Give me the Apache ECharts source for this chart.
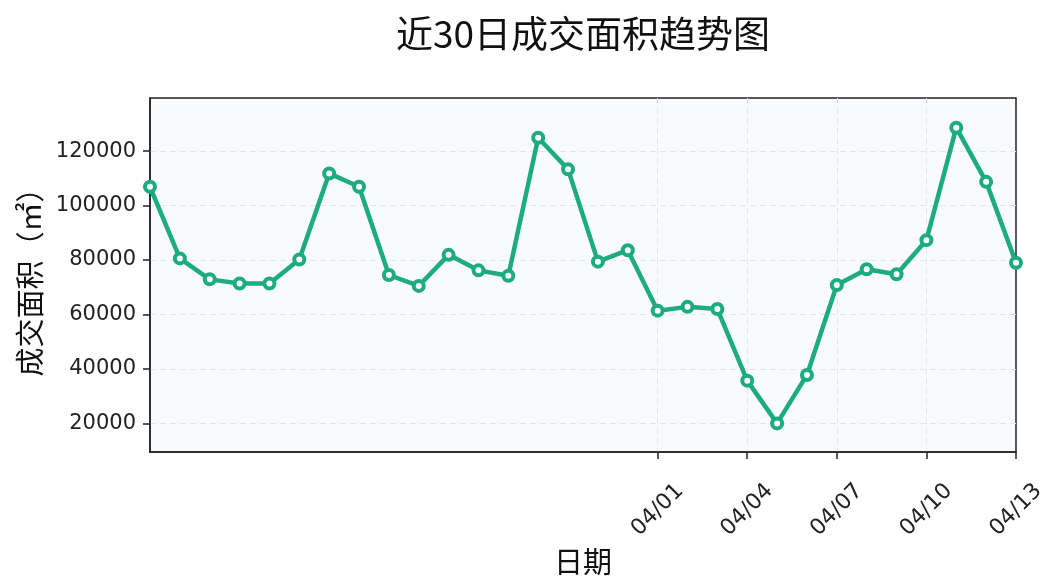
<!DOCTYPE html>
<html><head><meta charset="utf-8">
<script src="https://cdn.jsdelivr.net/npm/echarts@6/dist/echarts.min.js"></script>
<style>html,body{margin:0;padding:0;background:#fff}#c{width:1064px;height:585px}</style>
</head><body><div id="c"></div>
<script>
const dates = ["03/15","03/16","03/17","03/18","03/19","03/20","03/21","03/22","03/23","03/24",
  "03/25","03/26","03/27","03/28","03/29","03/30","03/31","04/01","04/02","04/03",
  "04/04","04/05","04/06","04/07","04/08","04/09","04/10","04/11","04/12","04/13"];
const areaValues = [106900,80600,72900,71400,71400,80200,111800,106900,74500,70500,
  81900,76200,74200,124900,113300,79400,83600,61400,62800,62000,
  35700,20000,37800,70800,76600,74800,87300,128600,108700,79000];
const xTickLabels = ["04/01","04/04","04/07","04/10","04/13"];
const yTickValues = [20000,40000,60000,80000,100000,120000];

const showTick = (i) => xTickLabels.includes(dates[i]);
const showGrid = (i) => xTickLabels.includes(dates[i]) && i !== dates.length - 1;
const chart = echarts.init(document.getElementById('c'));
chart.setOption({
  animation: false,
  backgroundColor: '#fff',
  title: {
    text: '近30日成交面积趋势图', left: 578, top: 10, textAlign: 'center',
    textStyle: {fontSize: 37, fontWeight: 'normal', color: '#111', fontFamily: 'Noto Sans CJK SC'}
  },
  grid: {left: 150, right: 48, top: 98, bottom: 133, show: true,
    backgroundColor: '#f8fafc', borderColor: '#222', borderWidth: 1.5},
  xAxis: {
    type: 'category', data: dates, boundaryGap: false,
    name: '日期', nameLocation: 'middle', nameGap: 83,
    nameTextStyle: {fontSize: 29, color: '#111', fontFamily: 'Noto Sans CJK SC'},
    axisLine: {lineStyle: {color: '#222', width: 1.5}},
    axisTick: {interval: showTick, length: 7, lineStyle: {color: '#222', width: 1.5}},
    axisLabel: {interval: showTick, rotate: 45, align: 'center', verticalAlign: 'middle',
      fontSize: 22, color: '#222', margin: 58, fontFamily: 'DejaVu Sans'},
    splitLine: {show: true, interval: showGrid, lineStyle: {color: '#e3e6ea', type: [6, 4], width: 1}}
  },
  yAxis: {
    type: 'value', min: 9500, max: 139500, splitNumber: 6,
    name: '成交面积（㎡）', nameLocation: 'middle', nameGap: 104,
    nameTextStyle: {fontSize: 29, color: '#111', fontFamily: 'Noto Sans CJK SC'},
    axisLine: {show: true, lineStyle: {color: '#222', width: 1.5}},
    axisTick: {show: true, length: 7, lineStyle: {color: '#222', width: 1.5},
      customValues: yTickValues},
    axisLabel: {fontSize: 21, color: '#222', margin: 14, fontFamily: 'DejaVu Sans',
      customValues: yTickValues, formatter: (v) => String(v)},
    splitLine: {show: true, lineStyle: {color: '#e3e6ea', type: [6, 4], width: 1}}
  },
  series: [{
    type: 'line', data: areaValues,
    symbol: 'circle', symbolSize: 10,
    lineStyle: {color: '#1cac7e', width: 4.5},
    itemStyle: {color: '#ffffff', borderColor: '#1cac7e', borderWidth: 4},
    z: 5
  }]
});
</script></body></html>
